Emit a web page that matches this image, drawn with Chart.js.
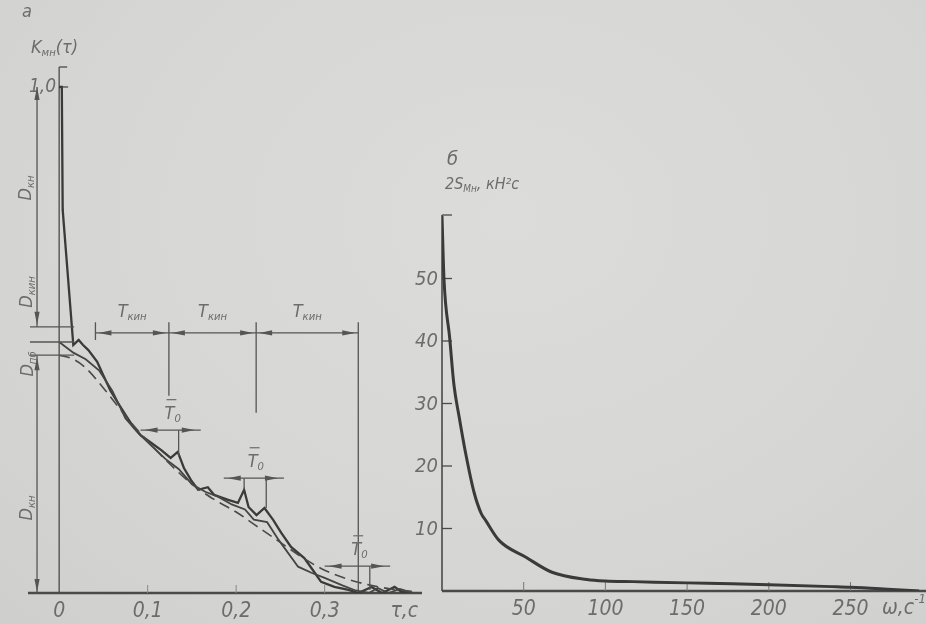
<!DOCTYPE html>
<html><head><meta charset="utf-8">
<script src="https://cdn.jsdelivr.net/npm/chart.js@4.4.1/dist/chart.umd.min.js"></script>
<style>
html,body{margin:0;padding:0;background:#d6d6d4;width:926px;height:624px;overflow:hidden}
#wrap{position:relative;width:926px;height:624px;background:radial-gradient(ellipse at 55% 35%,#dcdcda 0%,#d6d6d4 60%,#cfcfcd 100%)}
canvas{position:absolute;top:0}
#ca{left:0}
#cb{left:395px}
</style></head><body>
<div id="wrap"><canvas id="ca" width="430" height="624"></canvas><canvas id="cb" width="531" height="624"></canvas></div>
<script>
// ---------- Panel a: correlation function K(τ) ----------
const TAU_TICKS = [0, 0.1, 0.2, 0.3];
const TAU_TICK_LABELS = ['0', '0,1', '0,2', '0,3'];
const K_TICKS = [1.0];
const K_TICK_LABELS = ['1,0'];

// experimental curve (upper branch, with spike at τ = 0)
const TAU_1 = [0, 0.003, 0.004, 0.016, 0.022, 0.027, 0.033, 0.043, 0.05, 0.058, 0.066, 0.075, 0.084, 0.092, 0.103, 0.115, 0.126, 0.134, 0.141, 0.149, 0.157, 0.168, 0.175, 0.191, 0.202, 0.209, 0.214, 0.223, 0.232, 0.242, 0.251, 0.262, 0.277, 0.288, 0.296, 0.311, 0.327, 0.338, 0.353, 0.365, 0.379, 0.387, 0.399];
const K_1   = [1.0, 1.0, 0.757, 0.49, 0.5, 0.49, 0.48, 0.457, 0.43, 0.40, 0.377, 0.352, 0.328, 0.312, 0.298, 0.283, 0.267, 0.279, 0.247, 0.223, 0.204, 0.209, 0.194, 0.184, 0.178, 0.204, 0.17, 0.154, 0.168, 0.144, 0.119, 0.091, 0.069, 0.042, 0.022, 0.012, 0.006, 0.0, 0.012, 0.0, 0.012, 0.002, 0.0];

// experimental curve (lower branch, without spike)
const TAU_2 = [0, 0.016, 0.03, 0.045, 0.06, 0.075, 0.09, 0.105, 0.12, 0.135, 0.15, 0.165, 0.18, 0.195, 0.21, 0.22, 0.235, 0.248, 0.27, 0.285, 0.3, 0.32, 0.335, 0.35, 0.36, 0.372, 0.385, 0.40];
const K_2   = [0.496, 0.475, 0.462, 0.44, 0.40, 0.345, 0.315, 0.29, 0.265, 0.245, 0.215, 0.2, 0.19, 0.175, 0.165, 0.145, 0.14, 0.105, 0.052, 0.04, 0.03, 0.015, 0.005, 0.0, 0.01, 0.0, 0.008, 0.0];

// smooth approximation (dashed)
const TAU_A = [0, 0.016, 0.03, 0.05, 0.075, 0.1, 0.125, 0.15, 0.175, 0.2, 0.225, 0.25, 0.275, 0.3, 0.325, 0.35, 0.375, 0.4];
const K_A   = [0.47, 0.462, 0.445, 0.405, 0.35, 0.30, 0.255, 0.215, 0.185, 0.16, 0.13, 0.10, 0.07, 0.045, 0.028, 0.016, 0.008, 0.003];

// annotation values (data units)
const T_KIN_BOUNDS = [0.041, 0.124, 0.2226, 0.338];
const T_KIN_DROP   = [0.50, 0.39, 0.356, 0.006];
const T_KIN_LEVEL  = 0.514;
const T0_FROM  = [0.092, 0.186, 0.300];
const T0_TO    = [0.160, 0.254, 0.374];
const T0_LEVEL = [0.322, 0.227, 0.053];
const T0_MARK_TAU = [0.135, 0.209, 0.234, 0.351];
const T0_MARK_K   = [0.27, 0.204, 0.168, 0.006];
const T0_MARK_LVL = [0.322, 0.227, 0.227, 0.053];
const D_LEVELS = [0.526, 0.496, 0.47];

// ---------- Panel б: spectral density ----------
const OMEGA = [0, 1.2, 4.7, 7.3, 10.4, 14.5, 19.6, 24, 26.7, 34.9, 51.4, 67.3, 88.7, 100, 116.9, 150, 177.5, 200, 238.7, 250, 275.6, 292];
const S2    = [60, 50, 40.5, 33, 28, 22, 15.8, 12.4, 11.3, 8.1, 5.4, 3.0, 1.84, 1.6, 1.5, 1.3, 1.15, 1.0, 0.7, 0.6, 0.24, 0.0];
const OMEGA_TICKS = [50, 100, 150, 200, 250];
const S_TICKS = [10, 20, 30, 40, 50];

const pts = (xs, ys) => xs.map((v, i) => ({x: v, y: ys[i]}));

const LINE = '#3a3a3a';
const AXIS = '#4a4a4a';
const TXT = '#6c6c6c';
const FAM = '"Liberation Sans Narrow", "DejaVu Sans Condensed", "Liberation Sans", sans-serif';
const font = s => 'italic ' + s + 'px ' + FAM;

function seg(ctx, x1, y1, x2, y2) { ctx.beginPath(); ctx.moveTo(x1, y1); ctx.lineTo(x2, y2); ctx.stroke(); }
function head(ctx, x, y, dir, len = 13, hw = 2.6) {
  ctx.beginPath();
  if (dir === 'l') { ctx.moveTo(x, y); ctx.lineTo(x + len, y - hw); ctx.lineTo(x + len, y + hw); }
  if (dir === 'r') { ctx.moveTo(x, y); ctx.lineTo(x - len, y - hw); ctx.lineTo(x - len, y + hw); }
  if (dir === 'u') { ctx.moveTo(x, y); ctx.lineTo(x - hw, y + len); ctx.lineTo(x + hw, y + len); }
  if (dir === 'd') { ctx.moveTo(x, y); ctx.lineTo(x - hw, y - len); ctx.lineTo(x + hw, y - len); }
  ctx.closePath(); ctx.fill();
}
// label with main text, subscript and optional tail / overline
function label(ctx, main, sub, tail, x, y, size, align = 'center', over = false) {
  ctx.font = font(size);
  const w1 = ctx.measureText(main).width;
  ctx.font = font(size * 0.62);
  const w2 = sub ? ctx.measureText(sub).width : 0;
  ctx.font = font(size);
  const w3 = tail ? ctx.measureText(tail).width : 0;
  const W = w1 + w2 + w3;
  let x0 = align === 'center' ? x - W / 2 : (align === 'right' ? x - W : x);
  ctx.textAlign = 'left'; ctx.textBaseline = 'middle';
  ctx.fillText(main, x0, y);
  if (over) { ctx.save(); ctx.lineWidth = 1.2; ctx.strokeStyle = ctx.fillStyle; seg(ctx, x0 + 2, y - size * 0.8, x0 + w1 + 2, y - size * 0.8); ctx.restore(); }
  if (sub) { ctx.font = font(size * 0.62); ctx.fillText(sub, x0 + w1, y + size * 0.3); }
  if (tail) { ctx.font = font(size); ctx.fillText(tail, x0 + w1 + w2, y); }
}

const plugA = {
  id: 'plugA',
  beforeDatasetsDraw(chart) {
    const {ctx, chartArea: a, scales: {x, y}} = chart;
    const X = v => x.getPixelForValue(v), Y = v => y.getPixelForValue(v);
    ctx.save();
    ctx.strokeStyle = AXIS; ctx.fillStyle = AXIS;
    ctx.lineWidth = 2.6; seg(ctx, a.left, Y(0), a.right, Y(0));
    ctx.lineWidth = 1.3; seg(ctx, X(0), a.top, X(0), Y(0));
    seg(ctx, X(0), a.top, X(0) + 8, a.top);
    K_TICKS.forEach((v, i) => {
      seg(ctx, X(0), Y(v), X(0) + 9, Y(v));
      ctx.fillStyle = TXT; label(ctx, K_TICK_LABELS[i], '', '', X(0) - 3, Y(v), 19, 'right');
    });
    ctx.strokeStyle = '#8a8a8a'; ctx.lineWidth = 1;
    TAU_TICKS.forEach((v, i) => {
      if (v !== 0) seg(ctx, X(v), Y(0), X(v), Y(0) - 8);
      ctx.fillStyle = TXT; label(ctx, TAU_TICK_LABELS[i], '', '', X(v), 612, 21);
    });
    label(ctx, 'τ,с', '', '', X(0.39), 612, 21);
    // title
    label(ctx, 'a', '', '', 27, 12, 18);
    label(ctx, 'K', 'мн', '(τ)', 31, 48, 18, 'left');
    ctx.restore();
  },
  afterDatasetsDraw(chart) {
    const {ctx, scales: {x, y}} = chart;
    const X = v => x.getPixelForValue(v), Y = v => y.getPixelForValue(v);
    ctx.save();
    ctx.strokeStyle = '#555'; ctx.fillStyle = '#555'; ctx.lineWidth = 1.3;
    // T_кин dimension line
    const yl = Y(T_KIN_LEVEL);
    seg(ctx, X(T_KIN_BOUNDS[0]), yl, X(T_KIN_BOUNDS[T_KIN_BOUNDS.length - 1]), yl);
    T_KIN_BOUNDS.forEach((t, i) => seg(ctx, X(t), Y(0.535), X(t), Y(T_KIN_DROP[i])));
    for (let i = 0; i < T_KIN_BOUNDS.length - 1; i++) {
      const xa = X(T_KIN_BOUNDS[i]), xb = X(T_KIN_BOUNDS[i + 1]);
      head(ctx, xa + 3, yl, 'l'); head(ctx, xb - 3, yl, 'r');
      ctx.fillStyle = TXT; label(ctx, 'T', 'кин', '', (xa + xb) / 2, yl - 21, 18); ctx.fillStyle = '#555';
    }
    // T0 arrows
    T0_FROM.forEach((f, i) => {
      const yy = Y(T0_LEVEL[i]);
      seg(ctx, X(f), yy, X(T0_TO[i]), yy);
      head(ctx, X(f) + 4, yy, 'l'); head(ctx, X(T0_TO[i]) - 6, yy, 'r');
      ctx.fillStyle = TXT; label(ctx, 'T', '0', '', (X(f) + X(T0_TO[i])) / 2 + 2, yy - 16, 18, 'center', true); ctx.fillStyle = '#555';
    });
    T0_MARK_TAU.forEach((t, i) => seg(ctx, X(t), Y(T0_MARK_LVL[i]), X(t), Y(T0_MARK_K[i])));
    // D dimension lines on the left
    const xd = X(-0.025);
    seg(ctx, xd, Y(1.0), xd, Y(D_LEVELS[0]));
    head(ctx, xd, Y(1.0), 'u'); head(ctx, xd, Y(D_LEVELS[0]) - 2, 'd');
    seg(ctx, xd, Y(D_LEVELS[2]), xd, Y(0));
    head(ctx, xd, Y(D_LEVELS[2]) + 2, 'u'); head(ctx, xd, Y(0) - 1, 'd');
    D_LEVELS.forEach(v => seg(ctx, X(-0.033), Y(v), X(0.017), Y(v)));
    // rotated labels
    const rot = (main, sub, cx, cy) => { ctx.save(); ctx.translate(cx, cy); ctx.rotate(-Math.PI / 2); ctx.fillStyle = TXT; label(ctx, main, sub, '', 0, 0, 18); ctx.restore(); };
    rot('D', 'кн', 26, 188);
    rot('D', 'кин', 27, 292);
    rot('D', 'пб', 28, 364);
    rot('D', 'кн', 27, 508);
    ctx.restore();
  }
};

const plugB = {
  id: 'plugB',
  beforeDatasetsDraw(chart) {
    const {ctx, chartArea: a, scales: {x, y}} = chart;
    const X = v => x.getPixelForValue(v), Y = v => y.getPixelForValue(v);
    ctx.save();
    ctx.strokeStyle = AXIS; ctx.fillStyle = AXIS;
    ctx.lineWidth = 2.6; seg(ctx, a.left, Y(0), a.right, Y(0));
    ctx.lineWidth = 1.6; seg(ctx, X(0), a.top, X(0), Y(0));
    ctx.lineWidth = 1.3; seg(ctx, X(0), a.top, X(0) + 10, a.top);
    S_TICKS.forEach(v => {
      ctx.strokeStyle = AXIS; seg(ctx, X(0), Y(v), X(0) + 10, Y(v));
      ctx.fillStyle = TXT; label(ctx, String(v), '', '', X(0) - 4, Y(v) + 1, 20, 'right');
    });
    ctx.strokeStyle = '#777'; ctx.lineWidth = 1;
    OMEGA_TICKS.forEach(v => {
      seg(ctx, X(v), Y(0), X(v), Y(0) - 9);
      ctx.fillStyle = TXT; label(ctx, String(v), '', '', X(v), 610, 21);
    });
    ctx.fillStyle = TXT;
    // axis title ω, с^-1
    const xo = 882 - 395;
    ctx.font = font(21); ctx.textAlign = 'left'; ctx.textBaseline = 'middle';
    ctx.fillText('ω,с', xo, 609);
    const wo = ctx.measureText('ω,с').width;
    ctx.font = font(13); ctx.fillText('-1', xo + wo, 600);
    label(ctx, 'б', '', '', X(0) + 5, 160, 20, 'left');
    label(ctx, '2S', 'Mн', ', кН²с', X(0) + 3, 185, 16, 'left');
    ctx.restore();
  }
};

const common = {
  responsive: false, animation: false, devicePixelRatio: 1,
  plugins: {legend: {display: false}, tooltip: {enabled: false}},
  elements: {point: {radius: 0}, line: {tension: 0}}
};

new Chart(document.getElementById('ca'), {
  type: 'line',
  data: {datasets: [
    {data: pts(TAU_A, K_A), borderColor: '#4a4a4a', borderWidth: 1.6, borderDash: [11, 6], cubicInterpolationMode: 'monotone'},
    {data: pts(TAU_2, K_2), borderColor: '#444', borderWidth: 1.8},
    {data: pts(TAU_1, K_1), borderColor: LINE, borderWidth: 2.3}
  ]},
  options: Object.assign({}, common, {
    layout: {padding: {left: 28, right: 8, top: 67, bottom: 31}},
    scales: {
      x: {type: 'linear', min: -0.0352, max: 0.41, display: false},
      y: {type: 'linear', min: 0, max: 1.0395, display: false}
    }
  }),
  plugins: [plugA]
});

new Chart(document.getElementById('cb'), {
  type: 'line',
  data: {datasets: [
    {data: pts(OMEGA, S2), borderColor: LINE, borderWidth: 3, cubicInterpolationMode: 'monotone'}
  ]},
  options: Object.assign({}, common, {
    layout: {padding: {left: 47, right: 0, top: 215, bottom: 33}},
    scales: {
      x: {type: 'linear', min: 0, max: 296.2, display: false},
      y: {type: 'linear', min: 0, max: 60.16, display: false}
    }
  }),
  plugins: [plugB]
});
</script>
</body></html>
